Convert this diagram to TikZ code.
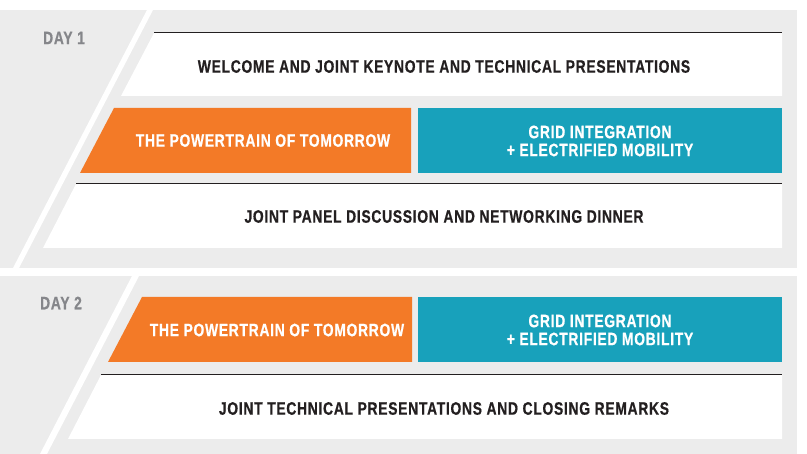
\documentclass[tikz,border=0pt]{standalone}
\usepackage{fontspec}
\setmainfont{Liberation Sans}[FakeStretch=0.77, LetterSpace=4, BoldFeatures={FakeBold=0.6}]
\usetikzlibrary{calc}
\definecolor{panelgray}{HTML}{ECECEC}
\definecolor{tomorroworange}{HTML}{F37A27}
\definecolor{gridteal}{HTML}{18A1BB}
\definecolor{darktext}{HTML}{231F20}
\definecolor{daygray}{HTML}{85868A}

\begin{document}
\begin{tikzpicture}[x=1pt,y=-1pt,
  rowtext/.style={font=\fontsize{18}{18}\selectfont\bfseries, text=darktext, align=center, inner sep=0pt},
  tracktext/.style={rowtext, text=white},
  daylabel/.style={rowtext, text=daygray},
  toprule/.style={line width=1.8pt, draw=darktext}]
  \useasboundingbox (0,0) rectangle (807,454);

  % Day panels with slanted stripes
  \fill[panelgray] (0,10) rectangle (797,268);
  \fill[panelgray] (0,276) rectangle (797,454);
  \fill[white] (147,10) -- (153,10) -- (19,268) -- (13,268) -- cycle;
  \fill[white] (132,276) -- (139,276) -- (47,454) -- (40,454) -- cycle;

  % Day 1 blocks
  \fill[white] (154,33) -- (782,33) -- (782,96) -- (121,96) -- cycle;
  \draw[toprule] (154,32.5) -- (782,32.5);
  \fill[tomorroworange] (114,108) -- (411,108) -- (411,173) -- (80,173) -- cycle;
  \fill[gridteal] (418,108) rectangle (782,173);
  \fill[white] (76,184) -- (782,184) -- (782,248) -- (43,248) -- cycle;
  \draw[toprule] (76,183.5) -- (782,183.5);

  % Day 2 blocks
  \fill[tomorroworange] (142,297) -- (412,297) -- (412,362) -- (108,362) -- cycle;
  \fill[gridteal] (418,297) rectangle (782,362);
  \fill[white] (101,375) -- (782,375) -- (782,439) -- (68,439) -- cycle;
  \draw[toprule] (101,374.5) -- (782,374.5);

  % Define nodes
  \node[daylabel] (day1) at (64,38) {DAY 1};
  \node[rowtext] (welcome) at (444,66.5) {WELCOME AND JOINT KEYNOTE AND TECHNICAL PRESENTATIONS};
  \node[tracktext] (power1) at (263,140.5) {THE POWERTRAIN OF TOMORROW};
  \node[tracktext] (grid1) at (600,141) {GRID INTEGRATION\\+ ELECTRIFIED MOBILITY};
  \node[rowtext] (panel) at (444,216.5) {JOINT PANEL DISCUSSION AND NETWORKING DINNER};

  \node[daylabel] (day2) at (61,303) {DAY 2};
  \node[tracktext] (power2) at (277,330) {THE POWERTRAIN OF TOMORROW};
  \node[tracktext] (grid2) at (600,330) {GRID INTEGRATION\\+ ELECTRIFIED MOBILITY};
  \node[rowtext] (closing) at (444,408.5) {JOINT TECHNICAL PRESENTATIONS AND CLOSING REMARKS};
\end{tikzpicture}
\end{document}
